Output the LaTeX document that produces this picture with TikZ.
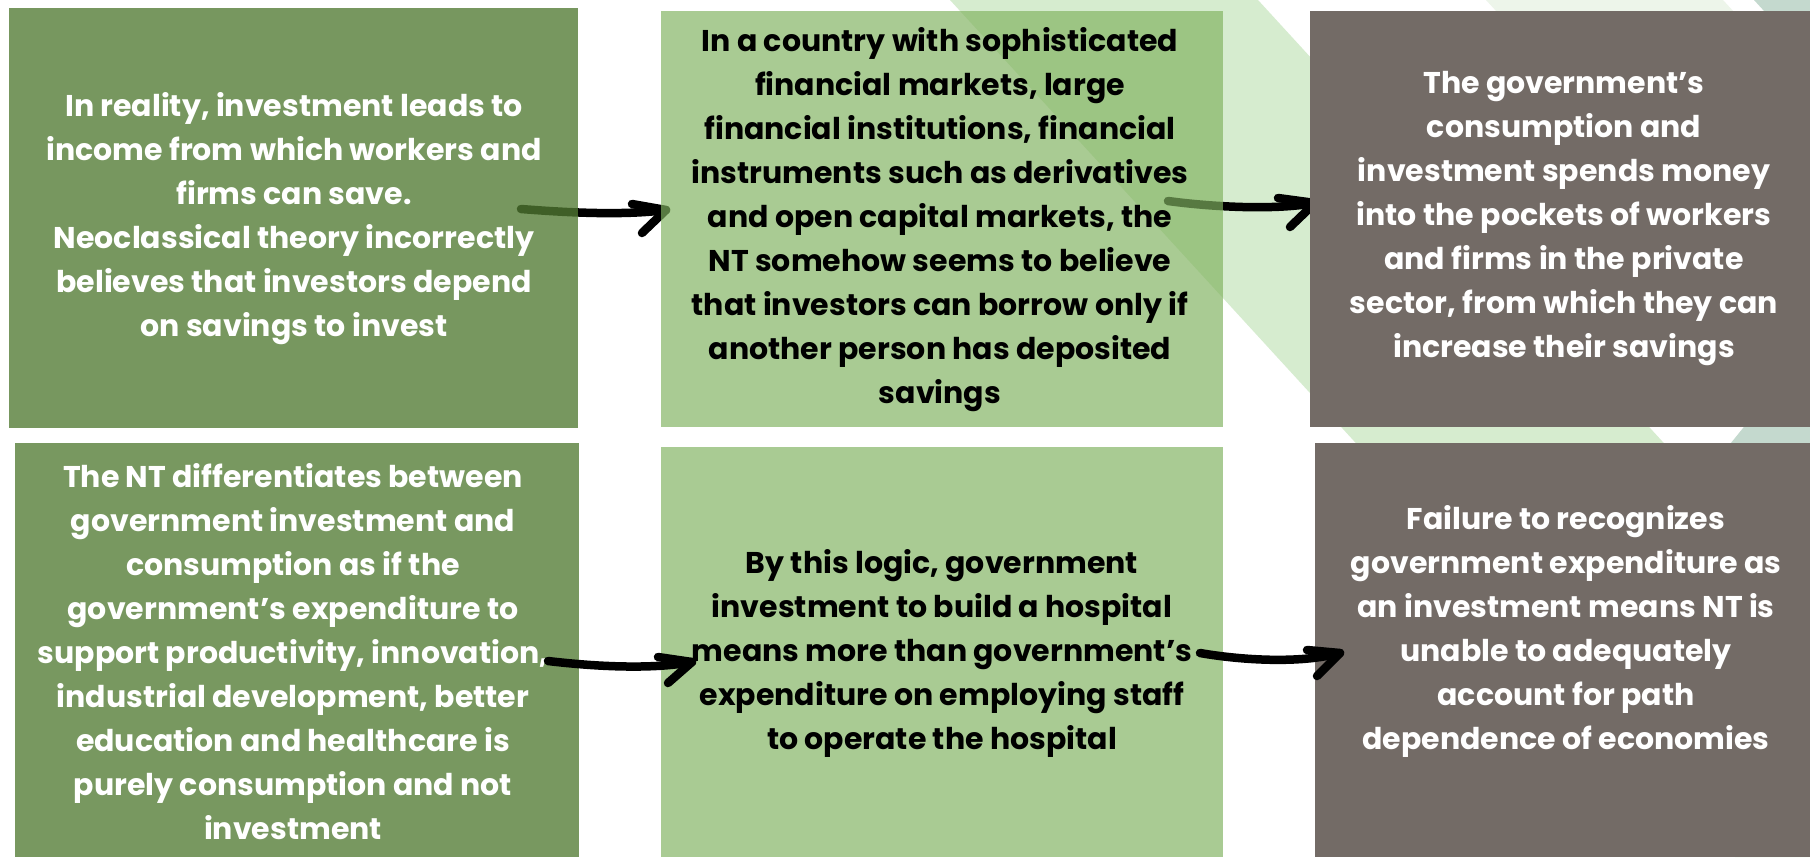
\documentclass[tikz,border=0pt]{standalone}
\usepackage{fontspec}
\setmainfont{Poppins}
\definecolor{gdark}{RGB}{82,123,51}
\definecolor{gdarkS}{RGB}{120,152,96}
\definecolor{glight}{RGB}{129,179,96}
\definecolor{glightS}{RGB}{169,203,147}
\definecolor{taupe}{RGB}{115,107,102}
\definecolor{bandA}{RGB}{214,236,207}
\definecolor{bandB}{RGB}{237,245,234}
\definecolor{bandC}{RGB}{196,217,206}
\tikzset{
  box/.style={rectangle, draw=none, inner sep=0pt, outer sep=0pt, anchor=north west},
  txt/.style={align=center, inner sep=0pt, font=\fontsize{30}{44}\selectfont\bfseries},
  arrowline/.style={draw=black, line width=8.5pt, line cap=round, line join=round}
}
\begin{document}
\begin{tikzpicture}[x=1pt,y=-1pt]
\useasboundingbox (0,0) rectangle (1810,857);
\clip (0,0) rectangle (1810,857);
\fill[white] (0,0) rectangle (1810,857);
% background stripes
\fill[bandA] (950,0) -- (1258,0) -- (2043,857) -- (1735,857) -- cycle;
\fill[bandB] (1486,0) -- (1723,0) -- (2508,857) -- (2271,857) -- cycle;
\fill[bandC] (1754,0) -- (1932,195) -- (1709,470) -- (1900,470) -- (1900,0) -- cycle;
% arrows under the top boxes
\coordinate (a1s) at (521,209);
\coordinate (a1t) at (666,210);
\draw[arrowline] (a1s) .. controls (560,212) and (620,216) .. (a1t);
\draw[arrowline] ([shift={(-34,-6)}]a1t) -- (a1t) -- ([shift={(-24,23)}]a1t);
\coordinate (a2s) at (1168,201);
\coordinate (a2t) at (1315,203);
\draw[arrowline] (a2s) .. controls (1205,206) and (1270,211) .. (a2t);
\draw[arrowline] ([shift={(-37,-5)}]a2t) -- (a2t) -- ([shift={(-25,24)}]a2t);
% boxes
\node[box, fill=gdark, fill opacity=0.78, minimum width=569pt, minimum height=420pt] (b1) at (9,8) {};
\node[box, fill=glight, fill opacity=0.68, minimum width=562pt, minimum height=416pt] (b2) at (661,11) {};
\node[box, fill=taupe, minimum width=500pt, minimum height=416pt] (b3) at (1310,11) {};
\node[box, fill=gdarkS, minimum width=564pt, minimum height=414pt] (b4) at (15,443) {};
\node[box, fill=glightS, minimum width=562pt, minimum height=410pt] (b5) at (661,447) {};
\node[box, fill=taupe, minimum width=495pt, minimum height=414pt] (b6) at (1315,443) {};
% texts
\node[txt, text=white] (t1) at (294,219) {In reality, investment leads to\\income from which workers and\\firms can save.\\Neoclassical theory incorrectly\\believes that investors depend\\on savings to invest};
\node[txt, text=black] (t2) at (940,220) {In a country with sophisticated\\financial markets, large\\financial institutions, financial\\instruments such as derivatives\\and open capital markets, the\\NT somehow seems to believe\\that investors can borrow only if\\another person has deposited\\savings};
\node[txt, text=white] (t3) at (1564,219) {The government’s\\consumption and\\investment spends money\\into the pockets of workers\\and firms in the private\\sector, from which they can\\increase their savings};
\node[txt, text=white] (t4) at (293,652) {The NT differentiates between\\government investment and\\consumption as if the\\government’s expenditure to\\support productivity, innovation,\\industrial development, better\\education and healthcare is\\purely consumption and not\\investment};
\node[txt, text=black] (t5) at (942,653) {By this logic, government\\investment to build a hospital\\means more than government’s\\expenditure on employing staff\\to operate the hospital};
\node[txt, text=white] (t6) at (1566,631) {Failure to recognizes\\government expenditure as\\an investment means NT is\\unable to adequately\\account for path\\dependence of economies};
% arrows on top of the bottom boxes
\coordinate (a3s) at (548,661);
\coordinate (a3t) at (692,662);
\draw[arrowline] (a3s) .. controls (590,666) and (650,670) .. (a3t);
\draw[arrowline] ([shift={(-34,-5)}]a3t) -- (a3t) -- ([shift={(-24,21)}]a3t);
\coordinate (a4s) at (1200,653);
\coordinate (a4t) at (1340,653);
\draw[arrowline] (a4s) .. controls (1240,660) and (1300,664) .. (a4t);
\draw[arrowline] ([shift={(-33,-3)}]a4t) -- (a4t) -- ([shift={(-23,23)}]a4t);
\end{tikzpicture}
\end{document}
